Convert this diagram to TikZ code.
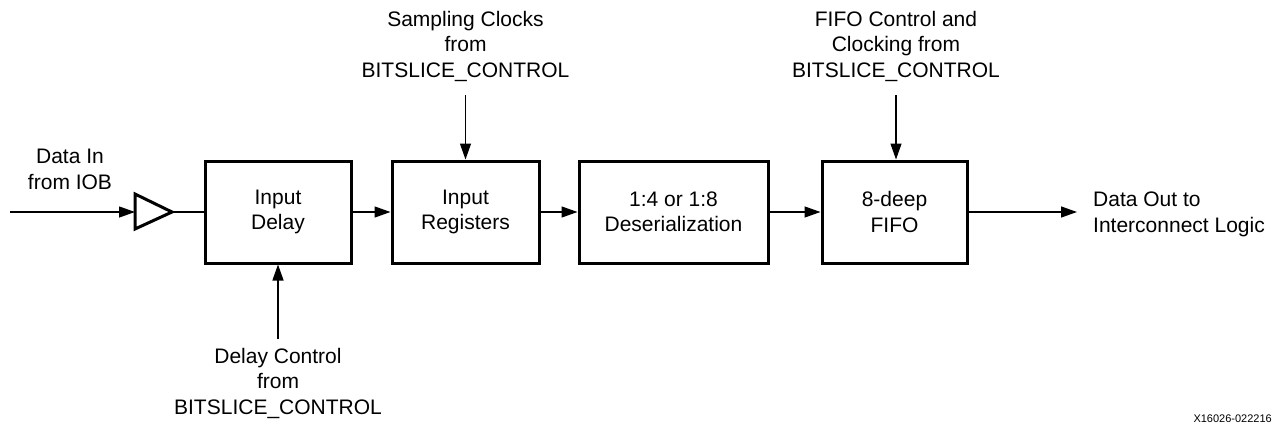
\documentclass[tikz,border=0pt]{standalone}
\usepackage{fontspec}
\setmainfont{Liberation Sans}
\usetikzlibrary{arrows.meta}
\tikzset{
  blk/.style={draw, line width=3pt, inner sep=0pt, align=center, font=\fontsize{21}{25.5}\selectfont},
  lbl/.style={inner sep=0pt, align=center, font=\fontsize{21}{25.5}\selectfont},
  conn/.style={line width=1.3pt},
  arr/.style={line width=1.3pt, -{Triangle[length=16pt,width=11pt]}}
}
\begin{document}
\begin{tikzpicture}[x=1pt,y=-1pt]
\useasboundingbox (0,0) rectangle (1278,426);
% blocks
\node[blk, minimum width=146pt, minimum height=102pt] (dly) at (278,212) {Input\\Delay};
\node[blk, minimum width=147pt, minimum height=102pt] (reg) at (465.5,212) {Input\\Registers};
\node[blk, minimum width=189pt, minimum height=102pt] (des) at (673.5,212) {1:4 or 1:8\\Deserialization};
\node[blk, minimum width=145pt, minimum height=102pt] (fifo) at (894.5,212) {8-deep\\FIFO};
% buffer
\coordinate (bufin) at (135,212);
\coordinate (bufout) at (172,212);
\draw[line width=3pt, line join=miter] (135,194) -- (bufout) -- (135,229) -- cycle;
% input
\coordinate (din) at (10,212);
\node[lbl] (dinlbl) at (70,169.5) {Data In\\from IOB};
\draw[arr] (din) -- (bufin);
\draw[conn] (bufout) -- (dly.west);
% chain
\draw[arr] (dly.east) -- (reg.west);
\draw[arr] (reg.east) -- (des.west);
\draw[arr] (des.east) -- (fifo.west);
\coordinate (dout) at (1077,212);
\draw[arr] (fifo.east) -- (dout);
\node[lbl, anchor=west, align=left] (doutlbl) at (1093,214.5) {Data Out to\\Interconnect Logic};
% sampling clocks
\coordinate (scs) at (465.5,95);
\node[lbl] (sclbl) at (465.5,46) {Sampling Clocks\\from\\BITSLICE\_CONTROL};
\draw[arr] (scs) -- (reg.north);
% fifo control
\coordinate (fcs) at (896,95);
\node[lbl] (fclbl) at (896,46) {FIFO Control and\\Clocking from\\BITSLICE\_CONTROL};
\draw[arr] (fcs) -- (fcs |- fifo.north);
% delay control
\coordinate (dcs) at (278,339);
\node[lbl] (dclbl) at (278,383) {Delay Control\\from\\BITSLICE\_CONTROL};
\draw[arr] (dcs) -- (dly.south);
% figure id
\node[inner sep=0pt, anchor=east, font=\fontsize{11}{13}\selectfont] (figid) at (1272,419) {X16026-022216};
\end{tikzpicture}
\end{document}
